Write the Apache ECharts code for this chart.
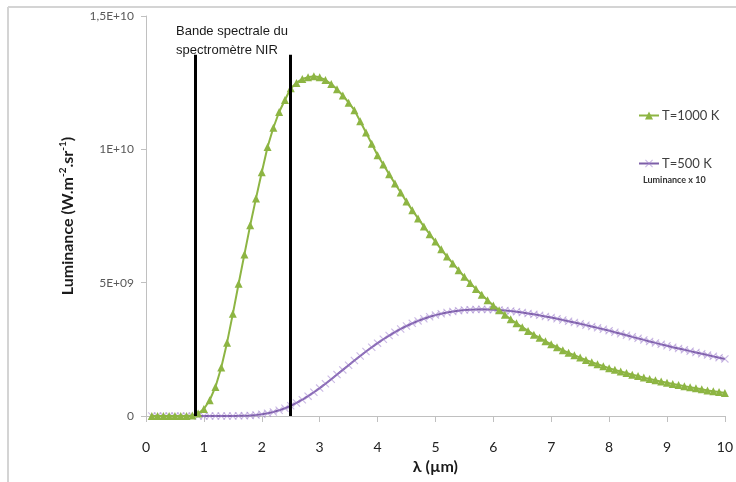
<!DOCTYPE html>
<html>
<head>
<meta charset="utf-8">
<script src="https://cdn.jsdelivr.net/npm/echarts@6/dist/echarts.min.js"></script>
<style>
html,body{margin:0;padding:0;background:#fff;}
#chart{width:736px;height:482px;}
</style>
</head>
<body>
<div id="chart"></div>
<script>
// wavelength grid (µm)
const lambda = [0.1,0.2,0.3,0.4,0.5,0.6,0.7,0.8,0.9,1.0,
1.1,1.2,1.3,1.4,1.5,1.6,1.7,1.8,1.9,2.0,
2.1,2.2,2.3,2.4,2.5,2.6,2.7,2.8,2.9,3.0,
3.1,3.2,3.3,3.4,3.5,3.6,3.7,3.8,3.9,4.0,
4.1,4.2,4.3,4.4,4.5,4.6,4.7,4.8,4.9,5.0,
5.1,5.2,5.3,5.4,5.5,5.6,5.7,5.8,5.9,6.0,
6.1,6.2,6.3,6.4,6.5,6.6,6.7,6.8,6.9,7.0,
7.1,7.2,7.3,7.4,7.5,7.6,7.7,7.8,7.9,8.0,
8.1,8.2,8.3,8.4,8.5,8.6,8.7,8.8,8.9,9.0,
9.1,9.2,9.3,9.4,9.5,9.6,9.7,9.8,9.9,10.0];

// T=1000 K luminance, in units of 1E+09 W.m-2.sr-1
const lum1000 = [0,0,0,0,0,0,0,0.02,0.09,0.26,
0.59,1.09,1.82,2.75,3.83,4.96,6.06,7.15,8.16,9.14,
10.09,10.81,11.40,11.85,12.29,12.49,12.64,12.70,12.74,12.70,
12.60,12.45,12.25,12.02,11.75,11.47,11.05,10.63,10.21,9.78,
9.43,9.07,8.72,8.38,8.04,7.72,7.41,7.11,6.82,6.54,
6.25,5.98,5.72,5.47,5.22,4.99,4.76,4.55,4.34,4.14,
3.97,3.80,3.63,3.48,3.33,3.19,3.05,2.93,2.80,2.69,
2.58,2.47,2.37,2.28,2.19,2.10,2.02,1.94,1.87,1.79,
1.73,1.67,1.61,1.55,1.50,1.44,1.39,1.34,1.29,1.25,
1.20,1.16,1.12,1.08,1.04,1.00,0.96,0.93,0.90,0.86];

// T=500 K luminance x10, in units of 1E+09
const lum500x10 = [0,0,0,0,0,0,0,0,0,0,
0,0,0,0,0.002,0.006,0.012,0.022,0.040,0.066,
0.102,0.151,0.213,0.290,0.382,0.489,0.610,0.744,0.890,1.046,
1.210,1.379,1.553,1.729,1.905,2.080,2.251,2.417,2.578,2.732,
2.878,3.016,3.145,3.265,3.375,3.475,3.567,3.648,3.720,3.783,
3.837,3.883,3.921,3.950,3.973,3.988,3.997,3.999,3.996,3.988,
3.974,3.957,3.935,3.909,3.879,3.847,3.812,3.774,3.733,3.691,
3.647,3.601,3.554,3.506,3.456,3.407,3.356,3.305,3.253,3.201,
3.142,3.084,3.026,2.968,2.911,2.854,2.797,2.742,2.687,2.632,
2.581,2.531,2.481,2.432,2.383,2.333,2.284,2.236,2.188,2.141];

const seriesNames = ['T=1000 K', 'T=500 K'];
const yTickValues = [0, 5, 10, 15];
const yTickLabels = ['0', '5E+09', '1E+10', '1,5E+10'];
const bandLimits = [0.85, 2.5];   // µm
const bandTop = 13.55;            // 1E+09 units
const bandText = 'Bande spectrale du\nspectromètre NIR';
const subLegend = 'Luminance x 10';

const green = '#8db543';
const purple = '#7d5fa8';
const xPath = 'path://M0,1 L1,0 L5,4 L9,0 L10,1 L6,5 L10,9 L9,10 L5,6 L1,10 L0,9 L4,5 Z';

const chart = echarts.init(document.getElementById('chart'));
chart.setOption({
  animation: false,
  backgroundColor: '#fff',
  grid: {left: 146, right: 9, top: 16, bottom: 66},
  xAxis: {
    type: 'value', min: 0, max: 10, interval: 1,
    name: 'λ (µm)', nameLocation: 'middle', nameGap: 34,
    nameTextStyle: {fontFamily: 'Lato', fontWeight: 'bold', fontSize: 16, color: '#1a1a1a'},
    axisLine: {lineStyle: {color: '#c0c0c0', width: 1}},
    axisTick: {show: true, inside: false, length: 6, lineStyle: {color: '#c0c0c0'}},
    axisLabel: {margin: 24, fontFamily: 'Lato', fontSize: 14, color: '#222'},
    splitLine: {show: false}
  },
  yAxis: {
    type: 'value', min: 0, max: 15, interval: 5,
    name: '{a|Luminance (W.m}{s|-2}{a|.sr}{s|-1}{a|)}', nameLocation: 'middle', nameGap: 70,
    nameTextStyle: {
      fontFamily: 'Lato', fontWeight: 'bold', fontSize: 16, color: '#1a1a1a',
      rich: {
        a: {fontFamily: 'Lato', fontWeight: 'bold', fontSize: 16, color: '#1a1a1a', lineHeight: 20, verticalAlign: 'bottom'},
        s: {fontFamily: 'Lato', fontWeight: 'bold', fontSize: 10, color: '#1a1a1a', lineHeight: 20, verticalAlign: 'top', padding: [2, 0, 0, 0]}
      }
    },
    axisLine: {show: true, lineStyle: {color: '#c0c0c0', width: 1}},
    axisTick: {show: true, inside: false, length: 5, lineStyle: {color: '#c0c0c0'}},
    axisLabel: {margin: 12, fontFamily: 'Lato', fontSize: 12, color: '#595959',
      formatter: v => yTickLabels[yTickValues.indexOf(v)]},
    splitLine: {show: false}
  },
  legend: {
    orient: 'vertical', left: 633, top: 104, itemGap: 35,
    itemWidth: 20, itemHeight: 10,
    textStyle: {fontFamily: 'Lato', fontSize: 13, color: '#404040', padding: [0, 0, 0, -2]},
    data: seriesNames
  },
  graphic: [
    {type: 'line', shape: {x1: 8, y1: 7, x2: 8, y2: 482}, style: {stroke: '#d4d4d4', lineWidth: 2}},
    {type: 'line', shape: {x1: 8, y1: 7, x2: 736, y2: 7}, style: {stroke: '#d4d4d4', lineWidth: 2}},
    {type: 'text', left: 176, top: 22,
      style: {text: bandText, font: '13px "Liberation Sans"', fill: '#1a1a1a', lineHeight: 19}},
    {type: 'text', left: 643, top: 176,
      style: {text: subLegend, font: 'bold 9px Lato', fill: '#333'}}
  ],
  series: [
    {
      name: seriesNames[0], type: 'line',
      data: lambda.map((l, i) => [l, lum1000[i]]),
      symbol: 'triangle', symbolSize: 8,
      lineStyle: {color: green, width: 2},
      itemStyle: {color: green},
      z: 3,
      markLine: {
        silent: true, symbol: ['none', 'none'],
        label: {show: false},
        lineStyle: {color: '#000', width: 3, type: 'solid'},
        data: bandLimits.map(b => [{coord: [b, 0]}, {coord: [b, bandTop]}])
      }
    },
    {
      name: seriesNames[1], type: 'line',
      data: lambda.map((l, i) => [l, lum500x10[i]]),
      symbol: xPath, symbolSize: 8,
      lineStyle: {color: purple, width: 2},
      itemStyle: {color: 'rgba(160,130,205,0.55)'},
      z: 2
    }
  ]
});
</script>
</body>
</html>
